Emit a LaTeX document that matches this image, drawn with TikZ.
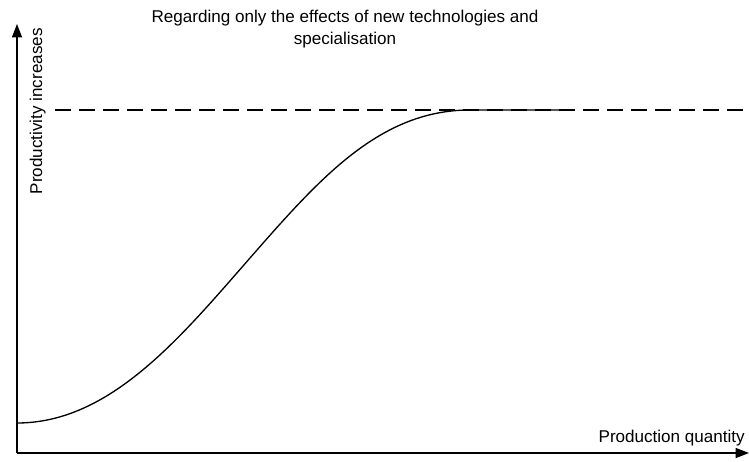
\documentclass[tikz,border=0pt]{standalone}
\usepackage{fontspec}
\setmainfont{Liberation Sans}
\usetikzlibrary{arrows.meta,positioning}

\begin{document}
\begin{tikzpicture}[x = 0.75pt, y = -0.75pt, >={Triangle[length=10pt, width=7.5pt]}, axis/.style = {->, line width = 1pt}, label/.style = {font = \fontsize{12.8}{16.5}\selectfont, inner sep = 0pt}]
	\useasboundingbox (0,0) rectangle (749,461);
	\coordinate(o) at (17,453);
	\coordinate(xend) at (749,453);
	\coordinate(yend) at (17,24);
	\coordinate(ds) at (55,110);
	\coordinate(de) at (749,110);
	\coordinate(cs) at (17,423);
	\coordinate(cm) at (250,258);
	\coordinate(ct) at (470,110);
	\coordinate(ce) at (563,110);
	
	\draw[axis](o) -- (xend);
	\draw[axis](o) -- (yend);
	\draw[dashed, dash pattern = on 12pt off 6pt, line width = 0.9pt](ds) -- (de);
	\draw[line width = 1pt](cs) .. controls (110,423) and (180,338) .. (cm) .. controls (320,178) and (380,110) .. (ct) -- (ce);
	
	\node[label, align = center](title) at (345,29){Regarding only the effects of new technologies and\\specialisation};
	\node[label, rotate = 90, anchor = base east](ylab) at (42,28){Productivity increases};
	\node[label, anchor = base east](xlab) at (745,442){Production quantity};
\end{tikzpicture}
\end{document}
